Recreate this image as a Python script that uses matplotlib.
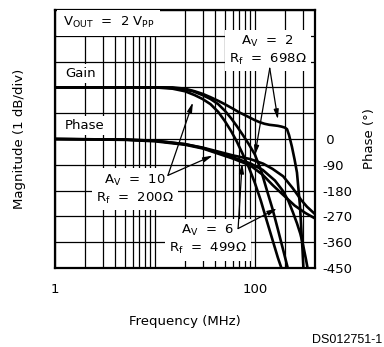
import numpy as np
import matplotlib
matplotlib.use('Agg')
import matplotlib.pyplot as plt
from matplotlib.ticker import LogLocator, NullFormatter

plt.rcParams['font.family'] = 'DejaVu Sans'
plt.rcParams['font.size'] = 9.5
plt.rcParams['axes.unicode_minus'] = False

# gain curves (dB, 1 dB/div, 0 dB = low freq level)
g2_f = [1, 15, 20, 25, 30, 36, 43, 50, 60, 70, 80, 90, 100, 112, 125, 140, 155,
        170, 185, 200, 210, 220, 235, 250, 264, 283, 300, 315]
g2_db = [0, 0, -0.05, -0.15, -0.25, -0.38, -0.52, -0.65, -0.82, -0.97, -1.08, -1.18,
         -1.27, -1.35, -1.41, -1.45, -1.47, -1.49, -1.52, -1.56, -1.62, -1.85, -2.3,
         -2.8, -3.3, -4.6, -6.3, -8.0]

g6_f = [1, 10, 15, 20, 25, 30, 36, 43, 50, 58, 66, 76, 87, 100, 115, 130, 150, 170, 192, 205]
g6_db = [0, 0, -0.05, -0.15, -0.3, -0.45, -0.65, -0.95, -1.3, -1.7, -2.1, -2.6, -3.1,
         -3.7, -4.4, -5.1, -5.9, -6.6, -7.2, -7.6]

g10_f = [1, 12, 18, 24, 30, 36, 43, 50, 58, 66, 76, 87, 100, 115, 130, 150, 170, 195, 220, 235]
g10_db = [0, 0, -0.05, -0.15, -0.3, -0.45, -0.65, -0.9, -1.2, -1.5, -1.85, -2.2, -2.6,
          -3.2, -3.9, -4.7, -5.5, -6.4, -7.2, -7.6]

# phase curves (deg)
p10_f = [1, 5, 10, 20, 30, 42, 60, 90, 121, 150, 192, 240, 290, 332, 400]
p10_deg = [0, -2, -6, -18, -30, -43, -57, -70, -86, -104, -130, -172, -212, -236, -262]

p6_f = [1, 5, 10, 20, 30, 42, 60, 90, 120, 150, 192, 250, 320, 400]
p6_deg = [0, -3, -8, -20, -33, -50, -68, -92, -125, -160, -195, -232, -258, -277]

p2_f = [1, 5, 10, 20, 30, 42, 60, 90, 120, 159, 190, 216, 240, 264, 285, 304, 325, 345]
p2_deg = [0, -2, -6, -18, -31, -47, -64, -85, -108, -145, -180, -215, -255, -294,
          -330, -370, -420, -470]

phase_ticks = [0, -90, -180, -270, -360, -450]
phase_labels = [' 0', '-90', '-180', '-270', '-360', '-450']

fig = plt.figure(figsize=(3.84, 3.47), dpi=100)
ax = fig.add_axes([55/384, 79/347, 260/384, 258/347])
ax.set_xscale('log')
ax.set_xlim(1, 400)
ax.set_ylim(-7, 3)
ax.set_xticks([1, 10, 100])
ax.set_xticklabels(['1', '', '100'])
ax.xaxis.set_minor_locator(LogLocator(base=10, subs=np.arange(2, 10)))
ax.xaxis.set_minor_formatter(NullFormatter())
ax.set_yticks(np.arange(-7, 4))
ax.set_yticklabels([])
ax.grid(True, which='both', color='k', lw=0.9)
ax.tick_params(which='both', length=0)
ax.tick_params(axis='x', pad=11)
for s in ax.spines.values():
    s.set_linewidth(1.6)

for f, g in [(g2_f, g2_db), (g6_f, g6_db), (g10_f, g10_db)]:
    ax.plot(f, g, color='k', lw=1.9)

ax2 = ax.twinx()
ax2.set_ylim(-450, 450)
ax2.set_yticks(phase_ticks)
ax2.set_yticklabels(phase_labels)
ax2.tick_params(length=0, pad=5)
for s in ax2.spines.values():
    s.set_visible(False)

for f, p in [(p10_f, p10_deg), (p6_f, p6_deg), (p2_f, p2_deg)]:
    ax2.plot(f, p, color='k', lw=1.9)

# labels with white boxes (in gain coords)
tr = ax.transData
box = dict(facecolor='white', edgecolor='none', pad=2)
ax2.text(1.2, 2.5, r'V$_{\mathregular{OUT}}$  =  2 V$_{\mathregular{PP}}$', transform=tr,
         ha='left', va='center', bbox=dict(facecolor='white', edgecolor='none', pad=4))
ax2.text(1.26, 0.54, 'Gain', transform=tr, ha='left', va='center', bbox=box)
ax2.text(1.26, -1.47, 'Phase', transform=tr, ha='left', va='center', bbox=box)

lbox = dict(facecolor='white', edgecolor='none', pad=3)
ax2.text(135, 1.43, r'A$_{\mathregular{V}}$  =  2' + '\n' + r'R$_{\mathregular{f}}$  =  698Ω',
         transform=tr, ha='center', va='center', linespacing=1.3, bbox=lbox)
ax2.text(6.3, -3.95, r'A$_{\mathregular{V}}$  =  10' + '\n' + r'R$_{\mathregular{f}}$  =  200Ω',
         transform=tr, ha='center', va='center', linespacing=1.3, bbox=lbox)
ax2.text(34, -5.9, r'A$_{\mathregular{V}}$  =  6' + '\n' + r'R$_{\mathregular{f}}$  =  499Ω',
         transform=tr, ha='center', va='center', linespacing=1.3, bbox=lbox)

aprops = dict(arrowstyle='-|>,head_length=0.6,head_width=0.15', color='k', lw=0.9,
              shrinkA=0, shrinkB=0)
arrows = [((13.5, -3.41), (24, -0.58)), ((13.5, -3.41), (38, -2.64)),
          ((141, 0.74), (170, -1.24)), ((141, 0.74), (100, -2.64)),
          ((68, -5.47), (74.6, -2.95)), ((68, -5.47), (167, -4.69))]
for src, dst in arrows:
    ax2.annotate('', xy=dst, xytext=src, xycoords=tr, textcoords=tr, arrowprops=aprops)

fig.text(20/384, 1 - 139/347, 'Magnitude (1 dB/div)', rotation=90, ha='center', va='center')
fig.text(370/384, 1 - 139/347, 'Phase (°)', rotation=90, ha='center', va='center')
fig.text(185/384, 1 - 322/347, 'Frequency (MHz)', ha='center', va='center')
fig.text(382/384, 1 - 340/347, 'DS012751-1', ha='right', va='center',
         family='Liberation Sans', fontsize=9)

fig.savefig('out.png', dpi=100)
